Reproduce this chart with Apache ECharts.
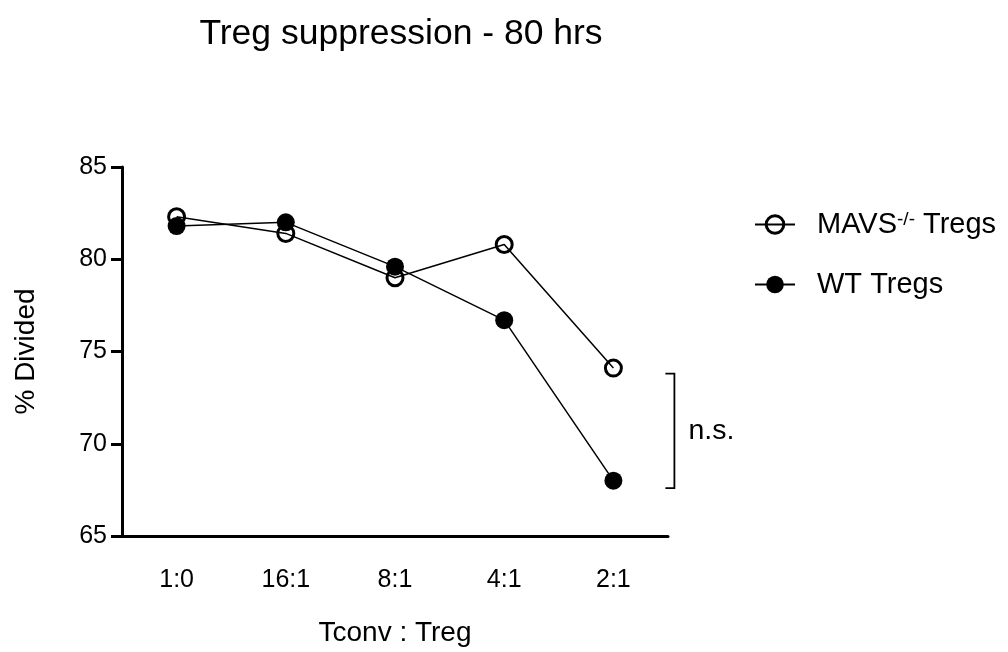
<!DOCTYPE html>
<html>
<head>
<meta charset="utf-8">
<style>
  html, body { margin: 0; padding: 0; background: #fff; }
  #chart { width: 1008px; height: 652px; }
</style>
<script src="https://cdn.jsdelivr.net/npm/echarts@6/dist/echarts.min.js"></script>
</head>
<body>
<div id="chart"></div>
<script>
// Tconv : Treg ratios on the x axis
const ratios = ['1:0', '16:1', '8:1', '4:1', '2:1'];
// % divided Tconv cells
const mavsTregs = [82.3, 81.4, 79.0, 80.8, 74.1];
const wtTregs = [81.8, 82.0, 79.6, 76.7, 68.0];
// y axis range and ticks
const yTicks = { min: 65, max: 85, step: 5 };
// significance bracket at the 2:1 ratio: [category index, top, bottom]
const bracket = [[4, 73.8, 67.6]];
const bracketLabel = 'n.s.';

const FONT = 'Arial, "Liberation Sans", Helvetica, sans-serif';
const chart = echarts.init(document.getElementById('chart'), null, { renderer: 'canvas' });

chart.setOption({
  animation: false,
  backgroundColor: '#ffffff',
  title: {
    text: 'Treg suppression - 80 hrs',
    left: 396,
    top: 11,
    textAlign: 'center',
    textStyle: { fontFamily: FONT, fontSize: 35.5, fontWeight: 'normal', color: '#000' }
  },
  legend: {
    orient: 'vertical',
    left: 749,
    top: 205,
    itemWidth: 40,
    itemHeight: 22,
    itemGap: 28,
    data: [
      { name: 'MAVS', itemStyle: { color: 'rgba(255,255,255,0)', borderColor: '#000', borderWidth: 3 }, lineStyle: { color: '#000', width: 2 } },
      { name: 'WT', itemStyle: { color: '#000' }, lineStyle: { color: '#000', width: 2 } }
    ],
    formatter: function (name) {
      return name === 'MAVS' ? '{t|MAVS}{s|-/-}{t| Tregs}' : '{t|WT Tregs}';
    },
    textStyle: {
      fontFamily: FONT, fontSize: 29, color: '#000', padding: [0, 0, 0, 17],
      rich: {
        t: { fontFamily: FONT, fontSize: 29, color: '#000' },
        s: { fontFamily: FONT, fontSize: 19, color: '#000', verticalAlign: 'top', lineHeight: 14, padding: [0, 0, 13, 0] }
      }
    }
  },
  grid: { left: 122, right: 340, top: 167, bottom: 116, containLabel: false, outerBoundsMode: 'none' },
  xAxis: {
    type: 'category',
    data: ratios,
    boundaryGap: true,
    name: 'Tconv : Treg',
    nameLocation: 'middle',
    nameGap: 83,
    nameTextStyle: { fontFamily: FONT, fontSize: 28, color: '#000' },
    axisLine: { lineStyle: { color: '#000', width: 3 } },
    axisTick: { alignWithLabel: true, length: 10, lineStyle: { color: '#000', width: 3 } },
    axisLabel: { margin: 32, fontFamily: FONT, fontSize: 25, color: '#000' },
    splitLine: { show: false }
  },
  yAxis: {
    type: 'value',
    min: yTicks.min,
    max: yTicks.max,
    interval: yTicks.step,
    name: '% Divided',
    nameLocation: 'middle',
    nameRotate: 90,
    nameGap: 82,
    nameTextStyle: { fontFamily: FONT, fontSize: 28, color: '#000' },
    axisLine: { show: true, lineStyle: { color: '#000', width: 3 } },
    axisTick: { show: true, length: 11, lineStyle: { color: '#000', width: 3 } },
    axisLabel: { margin: 15, fontFamily: FONT, fontSize: 25, color: '#000' },
    splitLine: { show: false }
  },
  series: [
    {
      name: 'MAVS',
      type: 'line',
      data: mavsTregs,
      symbol: 'circle',
      symbolSize: 16,
      z: 2,
      itemStyle: { color: 'rgba(255,255,255,0)', borderColor: '#000', borderWidth: 3 },
      lineStyle: { color: '#000', width: 1.5 }
    },
    {
      name: 'WT',
      type: 'line',
      data: wtTregs,
      symbol: 'circle',
      symbolSize: 18,
      z: 3,
      itemStyle: { color: '#000' },
      lineStyle: { color: '#000', width: 1.5 }
    },
    {
      name: 'bracket',
      type: 'custom',
      clip: false,
      silent: true,
      data: bracket,
      renderItem: function (params, api) {
        const idx = api.value(0);
        const top = api.coord([idx, api.value(1)]);
        const bot = api.coord([idx, api.value(2)]);
        const x = top[0] + 61;
        return {
          type: 'group',
          children: [
            {
              type: 'polyline',
              shape: { points: [[x - 9, top[1]], [x, top[1]], [x, bot[1]], [x - 9, bot[1]]] },
              style: { stroke: '#000', lineWidth: 1.8, fill: null }
            },
            {
              type: 'text',
              style: {
                text: bracketLabel, x: x + 14, y: (top[1] + bot[1]) / 2,
                fontFamily: FONT, fontSize: 28.5, fill: '#000',
                textAlign: 'left', textVerticalAlign: 'middle'
              }
            }
          ]
        };
      }
    }
  ]
});
</script>
</body>
</html>
